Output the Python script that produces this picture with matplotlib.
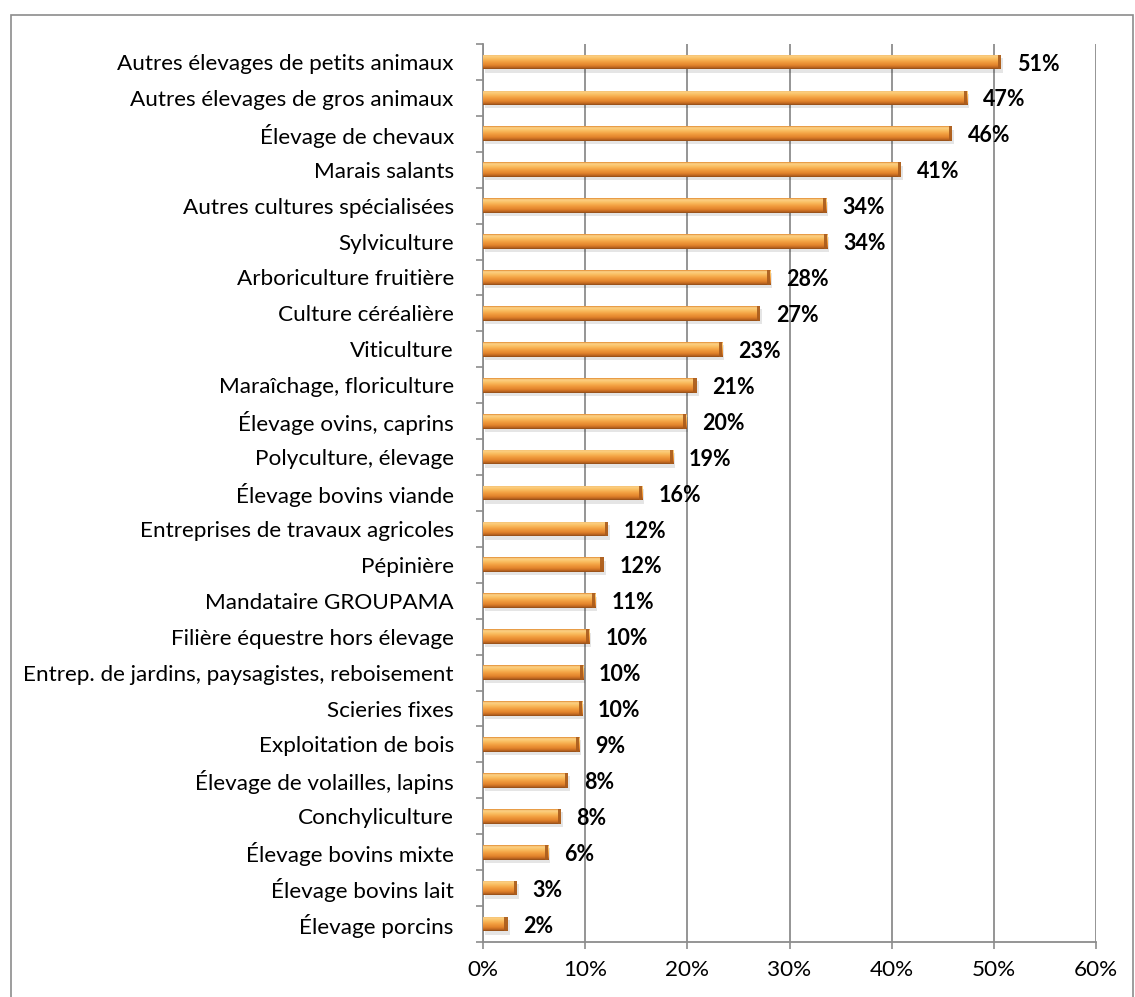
import numpy as np
import matplotlib
matplotlib.use("Agg")
import matplotlib.pyplot as plt
from matplotlib.patches import Rectangle
from matplotlib.colors import LinearSegmentedColormap

categories = [
    "Autres élevages de petits animaux",
    "Autres élevages de gros animaux",
    "Élevage de chevaux",
    "Marais salants",
    "Autres cultures spécialisées",
    "Sylviculture",
    "Arboriculture fruitière",
    "Culture céréalière",
    "Viticulture",
    "Maraîchage, floriculture",
    "Élevage ovins, caprins",
    "Polyculture, élevage",
    "Élevage bovins viande",
    "Entreprises de travaux agricoles",
    "Pépinière",
    "Mandataire GROUPAMA",
    "Filière équestre hors élevage",
    "Entrep. de jardins, paysagistes, reboisement",
    "Scieries fixes",
    "Exploitation de bois",
    "Élevage de volailles, lapins",
    "Conchyliculture",
    "Élevage bovins mixte",
    "Élevage bovins lait",
    "Élevage porcins",
]
values = [50.7, 47.4, 45.9, 40.9, 33.6, 33.7, 28.1, 27.1, 23.4, 20.9, 19.9, 18.6,
          15.6, 12.2, 11.8, 11.0, 10.4, 9.8, 9.7, 9.4, 8.3, 7.6, 6.4, 3.3, 2.4]
xticks = [0, 10, 20, 30, 40, 50, 60]
xticklabels = ["0%", "10%", "20%", "30%", "40%", "50%", "60%"]

plt.rcParams["font.family"] = ["Lato", "DejaVu Sans"]

W, H = 1135, 997
fig = plt.figure(figsize=(W / 100, H / 100), dpi=100)
ax = fig.add_axes([483 / W, 1 - 942 / H, (1096 - 483) / W, (942 - 44) / H])

n = len(categories)
ypos = np.arange(n)
bh = 0.41
grid_c = "#8C8C8C"
lab_fs = 16.2

cmap = LinearSegmentedColormap.from_list(
    "barg",
    [(0.0, "#E0892F"), (0.1, "#FCD288"), (0.28, "#FAC064"), (0.5, "#F3A142"),
     (0.75, "#E2832B"), (0.9, "#BE6620"), (1.0, "#8E4C19")])
grad = np.linspace(0, 1, 64).reshape(-1, 1)

bars = ax.barh(ypos, values, height=bh, color="#F2A040", edgecolor="none", zorder=3)
for b, y, v in zip(bars, ypos, values):
    ax.barh(y + 0.09, v, height=bh, left=0.2, color="#000000", alpha=0.10,
            edgecolor="none", zorder=2)
    im = ax.imshow(grad, cmap=cmap, aspect="auto", interpolation="bilinear",
                   extent=[0, v, y + bh / 2, y - bh / 2], zorder=3.5)
    im.set_clip_path(b)
    ax.barh(y, 0.3, left=v - 0.3, height=bh, color="#A95B1C", alpha=0.9,
            edgecolor="none", zorder=3.6)
    ax.annotate(f"{v:.0f}%", xy=(v, y), xytext=(11.5, -1.5), textcoords="offset points",
                ha="left", va="center", fontsize=15.5, fontweight="bold",
                color="#000000", zorder=5)

ax.set_xlim(0, 60)
ax.set_ylim(n - 0.5, -0.5)
ax.set_xticks(xticks)
ax.set_xticklabels(xticklabels, fontsize=lab_fs)
ax.set_yticks(ypos)
ax.set_yticklabels(categories, fontsize=lab_fs)
ax.set_yticks(np.arange(-0.5, n, 1.0), minor=True)
ax.tick_params(axis="y", which="major", length=0, pad=21)
ax.tick_params(axis="y", which="minor", length=5, width=1.2, color=grid_c, direction="out")
ax.tick_params(axis="x", which="major", length=5, width=1.2, color=grid_c, pad=8)
ax.xaxis.grid(True, color=grid_c, linewidth=1.3, zorder=0)
ax.set_axisbelow(True)
for s in ["top", "right"]:
    ax.spines[s].set_visible(False)
for s in ["left", "bottom"]:
    ax.spines[s].set_color(grid_c)
    ax.spines[s].set_linewidth(1.3)

fig.patches.append(Rectangle((11 / W, -0.02), (1133 - 11) / W, 1.02 - 15 / H,
                             transform=fig.transFigure, fill=False,
                             edgecolor="#8C8C8C", linewidth=1.2))

fig.savefig("out.png", dpi=100)
